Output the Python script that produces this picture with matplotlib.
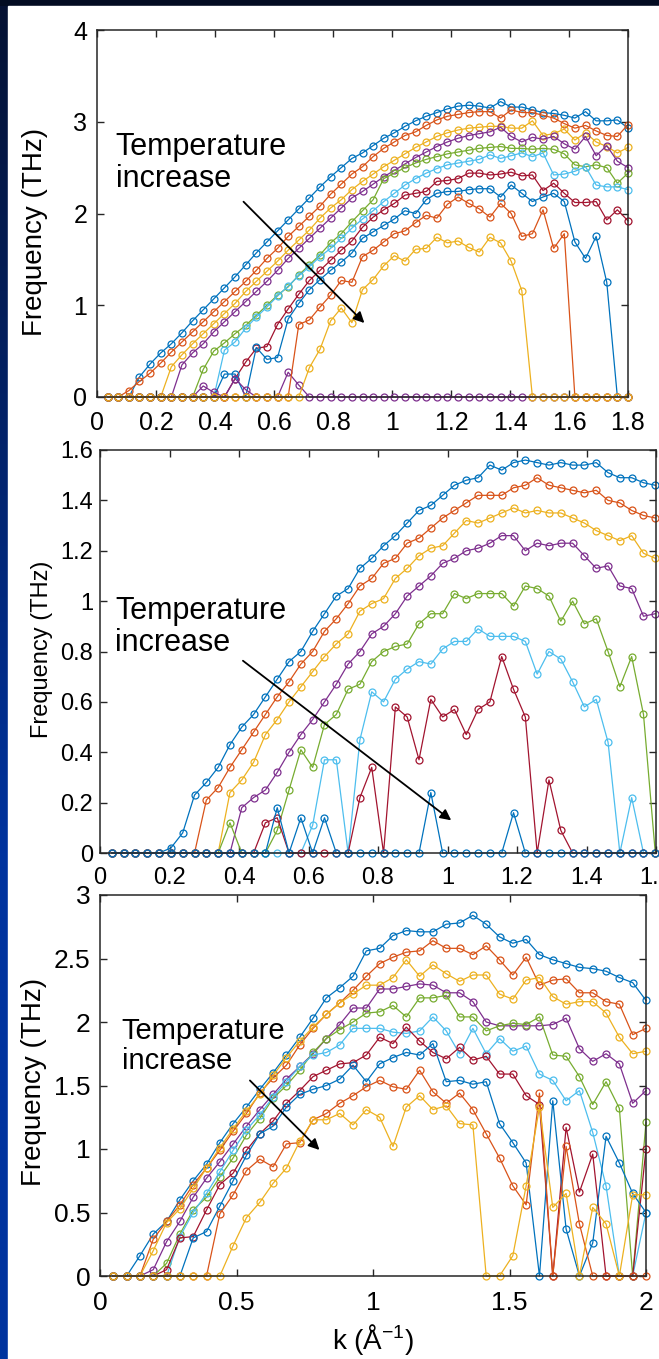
import numpy as np
import matplotlib
matplotlib.use("Agg")
import matplotlib.pyplot as plt
from matplotlib.patches import Rectangle
from matplotlib.ticker import FormatStrFormatter

plt.rcParams['font.family'] = ['Liberation Sans', 'DejaVu Sans']
plt.rcParams['mathtext.fontset'] = 'custom'
plt.rcParams['mathtext.rm'] = 'Liberation Sans'
plt.rcParams['mathtext.it'] = 'Liberation Sans:italic'

# MATLAB default colour order
c_blue, c_orange, c_yellow, c_purple = '#0072BD', '#D95319', '#EDB120', '#7E2F8E'
c_green, c_cyan, c_red = '#77AC30', '#4DBEEE', '#A2142F'

# ---------------- panel 1 (k step 0.036, 50 points) ----------------
p1_k_step = 0.036
p1_blue1 = [0, 0, 0, 0.22, 0.36, 0.48, 0.58, 0.70, 0.83, 0.95,
            1.07, 1.19, 1.31, 1.44, 1.57, 1.69, 1.81, 1.93, 2.05, 2.17,
            2.29, 2.40, 2.50, 2.60, 2.66, 2.74, 2.82, 2.88, 2.95, 3.01,
            3.06, 3.10, 3.14, 3.17, 3.18, 3.17, 3.15, 3.22, 3.16, 3.16,
            3.13, 3.10, 3.09, 3.07, 3.04, 3.11, 3.01, 3.01, 3.02, 2.93]
p1_orange1 = [0, 0, 0.07, 0.17, 0.26, 0.37, 0.49, 0.60, 0.71, 0.82,
              0.93, 1.04, 1.15, 1.26, 1.38, 1.51, 1.62, 1.75, 1.86, 1.97,
              2.08, 2.21, 2.32, 2.43, 2.51, 2.62, 2.71, 2.78, 2.85, 2.89,
              2.96, 3.02, 3.06, 3.08, 3.10, 3.11, 3.11, 3.04, 3.13, 3.10,
              3.10, 3.07, 3.04, 2.98, 2.93, 2.96, 2.90, 2.85, 2.84, 2.97]
p1_yellow1 = [0, 0, 0, 0, 0, 0, 0.33, 0.46, 0.58, 0.69,
              0.80, 0.91, 1.02, 1.15, 1.26, 1.37, 1.48, 1.60, 1.71, 1.82,
              1.95, 2.06, 2.15, 2.26, 2.35, 2.43, 2.51, 2.58, 2.65, 2.72,
              2.78, 2.84, 2.88, 2.91, 2.93, 2.94, 2.95, 2.95, 2.93, 2.93,
              3.01, 2.85, 2.87, 2.92, 2.80, 2.88, 2.78, 2.73, 2.66, 2.72]
p1_purple1 = [0, 0, 0, 0, 0, 0, 0, 0.35, 0.48, 0.58,
              0.71, 0.82, 0.93, 1.04, 1.15, 1.26, 1.38, 1.51, 1.62, 1.73,
              1.84, 1.95, 2.06, 2.17, 2.24, 2.32, 2.40, 2.47, 2.54, 2.61,
              2.67, 2.73, 2.78, 2.82, 2.85, 2.87, 2.89, 2.94, 2.84, 2.78,
              2.83, 2.81, 2.84, 2.76, 2.70, 2.84, 2.63, 2.74, 2.57, 2.50]
p1_green1 = [0, 0, 0, 0, 0, 0, 0, 0, 0, 0.30,
             0.50, 0.59, 0.69, 0.78, 0.89, 1.00, 1.11, 1.20, 1.33, 1.44,
             1.55, 1.68, 1.78, 1.91, 2.03, 2.15, 2.38, 2.44, 2.50, 2.55,
             2.59, 2.62, 2.65, 2.67, 2.69, 2.71, 2.72, 2.73, 2.71, 2.71,
             2.70, 2.71, 2.70, 2.65, 2.53, 2.51, 2.53, 2.50, 2.33, 2.44]
p1_cyan1 = [0, 0, 0, 0, 0, 0, 0, 0, 0, 0,
            0, 0.51, 0.60, 0.75, 0.87, 0.98, 1.10, 1.21, 1.32, 1.42,
            1.53, 1.62, 1.73, 1.84, 1.94, 2.03, 2.13, 2.22, 2.31, 2.38,
            2.44, 2.49, 2.53, 2.55, 2.57, 2.59, 2.64, 2.60, 2.63, 2.66,
            2.62, 2.66, 2.42, 2.43, 2.46, 2.51, 2.31, 2.29, 2.29, 2.26]
p1_red1 = [0, 0, 0, 0, 0, 0, 0, 0, 0, 0,
           0, 0, 0.20, 0.38, 0.53, 0.55, 0.79, 0.96, 1.12, 1.27,
           1.38, 1.49, 1.60, 1.70, 1.85, 1.96, 2.04, 2.11, 2.20, 2.22,
           2.24, 2.35, 2.36, 2.38, 2.44, 2.44, 2.42, 2.43, 2.45, 2.41,
           2.42, 2.25, 2.33, 2.22, 2.12, 2.12, 2.13, 1.93, 2.04, 1.92]
p1_blue2 = [0, 0, 0, 0, 0, 0, 0, 0, 0, 0,
            0, 0.25, 0.25, 0, 0.54, 0.41, 0.43, 0.85, 1.02, 1.17,
            1.28, 1.38, 1.47, 1.57, 1.73, 1.80, 1.87, 1.94, 2.03, 2.00,
            2.15, 2.22, 2.24, 2.24, 2.26, 2.27, 2.27, 2.18, 2.31, 2.22,
            2.13, 2.18, 2.22, 2.13, 1.69, 1.51, 1.75, 1.25, 0, 0]
p1_purple2 = [0, 0, 0, 0, 0, 0, 0, 0, 0, 0.12,
              0.05, 0, 0.20, 0.08, 0, 0, 0, 0.27, 0.13, 0,
              0, 0, 0, 0, 0, 0, 0, 0, 0, 0,
              0, 0, 0, 0, 0, 0, 0, 0, 0, 0,
              0, 0, 0, 0, 0, 0, 0, 0, 0, 0]
p1_orange2 = [0, 0, 0, 0, 0, 0, 0, 0, 0, 0,
              0, 0, 0, 0, 0, 0, 0, 0, 0.79, 0.84,
              0.98, 1.11, 1.27, 1.25, 1.53, 1.60, 1.69, 1.78, 1.81, 1.90,
              1.98, 1.95, 2.10, 2.18, 2.11, 2.05, 1.96, 2.11, 2.00, 1.75,
              1.78, 2.04, 1.62, 1.78, 0, 0, 0, 0, 0, 0]
p1_yellow2 = [0, 0, 0, 0, 0, 0, 0, 0, 0, 0,
              0, 0, 0, 0, 0, 0, 0, 0, 0, 0.32,
              0.52, 0.83, 0.97, 0.81, 1.17, 1.28, 1.43, 1.54, 1.48, 1.61,
              1.62, 1.74, 1.68, 1.70, 1.63, 1.58, 1.74, 1.68, 1.48, 1.16,
              0, 0, 0, 0, 0, 0, 0, 0, 0, 0]

# ---------------- panel 2 (k step 0.034, 47 points) ----------------
p2_k_step = 0.034
p2_blue1 = [0, 0, 0, 0, 0, 0.02, 0.08, 0.23, 0.28, 0.34,
            0.43, 0.50, 0.55, 0.62, 0.69, 0.76, 0.80, 0.88, 0.95, 1.02,
            1.05, 1.13, 1.17, 1.22, 1.26, 1.31, 1.36, 1.38, 1.42, 1.46,
            1.48, 1.49, 1.54, 1.52, 1.55, 1.56, 1.55, 1.54, 1.55, 1.54,
            1.54, 1.55, 1.51, 1.49, 1.49, 1.47, 1.46]
p2_orange1 = [0, 0, 0, 0, 0, 0, 0, 0, 0.21, 0.26,
              0.34, 0.41, 0.48, 0.55, 0.62, 0.68, 0.75, 0.80, 0.88, 0.93,
              0.99, 1.06, 1.09, 1.15, 1.17, 1.23, 1.25, 1.29, 1.33, 1.36,
              1.39, 1.42, 1.42, 1.42, 1.45, 1.46, 1.49, 1.46, 1.45, 1.44,
              1.43, 1.44, 1.40, 1.39, 1.36, 1.34, 1.33]
p2_yellow1 = [0, 0, 0, 0, 0, 0, 0, 0, 0, 0,
              0.24, 0.29, 0.36, 0.47, 0.53, 0.60, 0.66, 0.72, 0.78, 0.83,
              0.87, 0.96, 0.99, 1.01, 1.09, 1.13, 1.18, 1.21, 1.22, 1.27,
              1.32, 1.31, 1.33, 1.35, 1.37, 1.35, 1.36, 1.35, 1.35, 1.33,
              1.31, 1.28, 1.26, 1.24, 1.26, 1.19, 1.17]
p2_purple1 = [0, 0, 0, 0, 0, 0, 0, 0, 0, 0,
              0, 0.18, 0.22, 0.25, 0.32, 0.40, 0.47, 0.53, 0.60, 0.67,
              0.75, 0.80, 0.87, 0.90, 0.95, 1.02, 1.06, 1.10, 1.15, 1.17,
              1.20, 1.21, 1.23, 1.26, 1.26, 1.20, 1.23, 1.22, 1.23, 1.23,
              1.18, 1.13, 1.14, 1.06, 1.05, 0.94, 0.95]
p2_green1 = [0, 0, 0, 0, 0, 0, 0, 0, 0, 0,
             0.12, 0, 0, 0, 0.09, 0.25, 0.41, 0.34, 0.51, 0.55,
             0.65, 0.67, 0.76, 0.80, 0.82, 0.83, 0.91, 0.95, 0.95, 1.03,
             1.01, 1.03, 1.03, 1.03, 0.98, 1.06, 1.05, 1.02, 0.92, 1.00,
             0.91, 0.93, 0.80, 0.66, 0.78, 0.55, 0]
p2_cyan1 = [0, 0, 0, 0, 0, 0, 0, 0, 0, 0,
            0, 0, 0, 0, 0, 0, 0, 0.11, 0.37, 0.37,
            0, 0.45, 0.64, 0.60, 0.69, 0.73, 0.76, 0.75, 0.81, 0.84,
            0.84, 0.89, 0.86, 0.86, 0.86, 0.84, 0.71, 0.80, 0.77, 0.68,
            0.58, 0.61, 0.44, 0, 0.22, 0, 0]
p2_red1 = [0, 0, 0, 0, 0, 0, 0, 0, 0, 0,
           0, 0, 0, 0.12, 0.14, 0, 0, 0, 0, 0,
           0, 0.22, 0.34, 0, 0.58, 0.54, 0.37, 0.61, 0.54, 0.57,
           0.47, 0.57, 0.60, 0.78, 0.65, 0.54, 0, 0.29, 0.09, 0,
           0, 0, 0, 0, 0, 0, 0]
p2_blue2 = [0, 0, 0, 0, 0, 0, 0, 0, 0, 0,
            0, 0, 0, 0, 0.18, 0, 0.14, 0, 0.14, 0,
            0, 0, 0, 0, 0, 0, 0, 0.24, 0, 0,
            0, 0, 0, 0, 0.16, 0, 0, 0, 0, 0,
            0, 0, 0, 0, 0, 0, 0]

# ---------------- panel 3 (k step 2/41, 41 points) ----------------
p3_k_step = 2 / 41
p3_blue1 = [0, 0, 0.16, 0.33, 0.43, 0.60, 0.75, 0.88, 1.05, 1.20,
            1.33, 1.47, 1.60, 1.74, 1.88, 2.03, 2.19, 2.27, 2.36, 2.56,
            2.58, 2.68, 2.72, 2.71, 2.71, 2.77, 2.78, 2.84, 2.77, 2.67,
            2.62, 2.65, 2.53, 2.49, 2.46, 2.43, 2.42, 2.40, 2.35, 2.31,
            2.17]
p3_orange1 = [0, 0, 0, 0.29, 0.43, 0.56, 0.72, 0.85, 0.99, 1.14,
              1.28, 1.44, 1.56, 1.66, 1.82, 1.95, 2.06, 2.15, 2.25, 2.36,
              2.46, 2.51, 2.55, 2.56, 2.64, 2.58, 2.58, 2.53, 2.60, 2.49,
              2.37, 2.51, 2.29, 2.33, 2.34, 2.23, 2.23, 2.16, 2.14, 1.90,
              1.95]
p3_yellow1 = [0, 0, 0, 0.20, 0.42, 0.53, 0.69, 0.85, 1.01, 1.16,
              1.30, 1.43, 1.58, 1.72, 1.85, 1.96, 2.06, 2.15, 2.22, 2.29,
              2.29, 2.35, 2.49, 2.36, 2.45, 2.38, 2.32, 2.37, 2.37, 2.22,
              2.18, 2.33, 2.35, 2.20, 2.14, 2.16, 2.16, 2.07, 1.88, 1.75,
              1.77]
p3_purple1 = [0, 0, 0, 0.05, 0.27, 0.43, 0.62, 0.77, 0.90, 1.04,
              1.18, 1.31, 1.43, 1.55, 1.65, 1.75, 1.87, 1.98, 2.11, 2.11,
              2.26, 2.26, 2.28, 2.30, 2.29, 2.23, 2.23, 2.16, 2.00, 1.97,
              1.97, 1.97, 1.97, 1.98, 2.03, 1.79, 1.69, 1.75, 1.67, 1.36,
              1.46]
p3_green1 = [0, 0, 0, 0, 0.10, 0.33, 0.52, 0.62, 0.78, 0.93,
             1.11, 1.24, 1.40, 1.50, 1.62, 1.76, 1.87, 1.94, 2.00, 2.07,
             2.08, 2.13, 2.04, 2.19, 2.19, 2.21, 2.04, 2.04, 1.93, 1.97,
             1.99, 1.98, 2.04, 1.74, 1.73, 1.57, 1.35, 1.53, 1.32, 0,
             1.21]
p3_cyan1 = [0, 0, 0, 0, 0, 0.31, 0.50, 0.65, 0.82, 0.99,
            1.15, 1.27, 1.41, 1.53, 1.65, 1.74, 1.76, 1.82, 1.95, 1.95,
            1.95, 1.92, 1.91, 1.93, 2.04, 1.93, 1.75, 1.95, 1.75, 1.87,
            1.77, 1.81, 1.59, 1.54, 1.38, 1.46, 1.13, 0.71, 0, 0,
            0.50]
p3_red1 = [0, 0, 0, 0, 0.05, 0.30, 0.31, 0.52, 0.72, 0.81,
           0.99, 1.12, 1.22, 1.36, 1.46, 1.57, 1.62, 1.67, 1.68, 1.74,
           1.88, 1.83, 1.96, 1.85, 1.76, 1.71, 1.80, 1.70, 1.73, 1.59,
           1.59, 1.42, 1.35, 0, 1.17, 0.66, 0.96, 0, 0, 0,
           1.00]
p3_blue2 = [0, 0, 0, 0, 0, 0, 0.30, 0.35, 0.55, 0.75,
            0.95, 1.12, 1.18, 1.33, 1.43, 1.47, 1.50, 1.55, 1.66, 1.53,
            1.67, 1.72, 1.76, 1.74, 1.83, 1.53, 1.54, 1.51, 1.53, 1.20,
            1.05, 0.89, 0, 1.38, 0.37, 0, 0.26, 1.10, 0.89, 0.65,
            0.50]
p3_orange2 = [0, 0, 0, 0, 0, 0, 0, 0, 0.49, 0.64,
              0.83, 0.92, 0.86, 1.04, 1.05, 1.23, 1.28, 1.36, 1.42, 1.49,
              1.54, 1.49, 1.47, 1.62, 1.45, 1.36, 1.44, 1.31, 1.12, 0.93,
              0.71, 0.56, 1.44, 0, 1.02, 0.41, 0, 0, 0, 0,
              0]
p3_yellow2 = [0, 0, 0, 0, 0, 0, 0, 0, 0, 0.24,
              0.46, 0.58, 0.73, 0.85, 1.06, 1.23, 1.23, 1.28, 1.19, 1.31,
              1.25, 1.02, 1.33, 1.42, 1.31, 1.34, 1.20, 1.19, 0, 0,
              0.16, 0.71, 1.33, 0.54, 0.65, 0, 0.54, 0.41, 0, 0.64,
              0.64]

W, H = 659, 1359
fig = plt.figure(figsize=(W / 100, H / 100), dpi=100, facecolor='#030c22')

# background: dark band, blue strip on the left, white sheet behind the panels
bg = fig.add_axes([0, 0, 1, 1], zorder=-10)
bg.axis('off')
grad = np.ones((400, 1, 3))
top_c = np.array([0.02, 0.07, 0.20])
bot_c = np.array([0.00, 0.20, 0.62])
t = np.clip(np.linspace(0, 1, 400) * 1.6, 0, 1)[:, None]
grad[:, 0, :] = top_c * (1 - t) + bot_c * t
bg.imshow(grad, extent=(0, 8, H, 6), aspect='auto', interpolation='bilinear')
bg.add_patch(Rectangle((8, 6), W - 8, H - 6, color='white'))
bg.set_xlim(0, W)
bg.set_ylim(H, 0)


def px_axes(left, top, right, bottom):
    return fig.add_axes([left / W, 1 - bottom / H, (right - left) / W, (bottom - top) / H])


def style(ax, tick_fs, xpad, ypad):
    for s in ax.spines.values():
        s.set_color('#262626')
        s.set_linewidth(1.1)
    ax.tick_params(direction='in', length=5, width=1, top=True, right=True,
                   labelsize=tick_fs, colors='#262626', labelcolor='black')
    ax.tick_params(axis='x', pad=xpad)
    ax.tick_params(axis='y', pad=ypad)
    ax.xaxis.set_major_formatter(FormatStrFormatter('%g'))
    ax.yaxis.set_major_formatter(FormatStrFormatter('%g'))


def draw(ax, k, series):
    for y, c in series:
        ax.plot(k, y, '-o', color=c, lw=0.9, ms=5, mfc='none', mew=0.9, clip_on=False)


def note(ax, x, y, fs, tail, head):
    ax.text(x, y, 'Temperature\nincrease', fontsize=fs, va='top', ha='left', linespacing=1.08)
    ax.annotate('', xy=head, xytext=tail,
                arrowprops=dict(arrowstyle='-|>', color='black', lw=1.3, mutation_scale=16))


# ---------------- panel 1 ----------------
ax1 = px_axes(97, 30, 628, 397)
k1 = p1_k_step * np.arange(1, len(p1_blue1) + 1)
draw(ax1, k1, [(p1_blue1, c_blue), (p1_orange1, c_orange), (p1_yellow1, c_yellow),
               (p1_purple1, c_purple), (p1_green1, c_green), (p1_cyan1, c_cyan),
               (p1_red1, c_red), (p1_blue2, c_blue), (p1_purple2, c_purple),
               (p1_orange2, c_orange), (p1_yellow2, c_yellow)])
ax1.set_xlim(0, 1.8)
ax1.set_ylim(0, 4)
ax1.set_xticks(np.arange(0, 1.81, 0.2))
ax1.set_yticks([0, 1, 2, 3, 4])
style(ax1, 18, 10, 7)
ax1.set_ylabel('Frequency (THz)', fontsize=20)
ax1.yaxis.set_label_coords(-0.092, 0.45)
note(ax1, 0.063, 2.89, 22, (0.49, 2.15), (0.913, 0.785))

# ---------------- panel 2 ----------------
ax2 = px_axes(100, 450, 656, 853)
k2 = p2_k_step * np.arange(1, len(p2_blue1) + 1)
draw(ax2, k2, [(p2_blue1, c_blue), (p2_orange1, c_orange), (p2_yellow1, c_yellow),
               (p2_purple1, c_purple), (p2_green1, c_green), (p2_cyan1, c_cyan),
               (p2_red1, c_red), (p2_blue2, c_blue)])
ax2.set_xlim(0, 1.6)
ax2.set_ylim(0, 1.6)
ax2.set_xticks(np.arange(0, 1.61, 0.2))
ax2.set_yticks(np.arange(0, 1.61, 0.2))
style(ax2, 17, 10, 5)
ax2.set_ylabel('Frequency (THz)', fontsize=17)
ax2.yaxis.set_label_coords(-0.084, 0.506)
note(ax2, 0.044, 1.02, 22, (0.405, 0.77), (1.017, 0.123))

# ---------------- panel 3 ----------------
ax3 = px_axes(100, 895, 646, 1276)
k3 = p3_k_step * np.arange(1, len(p3_blue1) + 1)
draw(ax3, k3, [(p3_blue1, c_blue), (p3_orange1, c_orange), (p3_yellow1, c_yellow),
               (p3_purple1, c_purple), (p3_green1, c_green), (p3_cyan1, c_cyan),
               (p3_red1, c_red), (p3_blue2, c_blue), (p3_orange2, c_orange),
               (p3_yellow2, c_yellow)])
ax3.set_xlim(0, 2)
ax3.set_ylim(0, 3)
ax3.set_xticks([0, 0.5, 1, 1.5, 2])
ax3.set_yticks(np.arange(0, 3.01, 0.5))
style(ax3, 19, 11, 7)
ax3.set_ylabel('Frequency (THz)', fontsize=20)
ax3.yaxis.set_label_coords(-0.097, 0.51)
ax3.set_xlabel('k (Å$^{-1}$)', fontsize=20)
ax3.xaxis.set_label_coords(0.5, -0.12)
note(ax3, 0.08, 2.04, 21, (0.542, 1.555), (0.811, 0.977))

fig.savefig('out.png', dpi=100, facecolor=fig.get_facecolor())
